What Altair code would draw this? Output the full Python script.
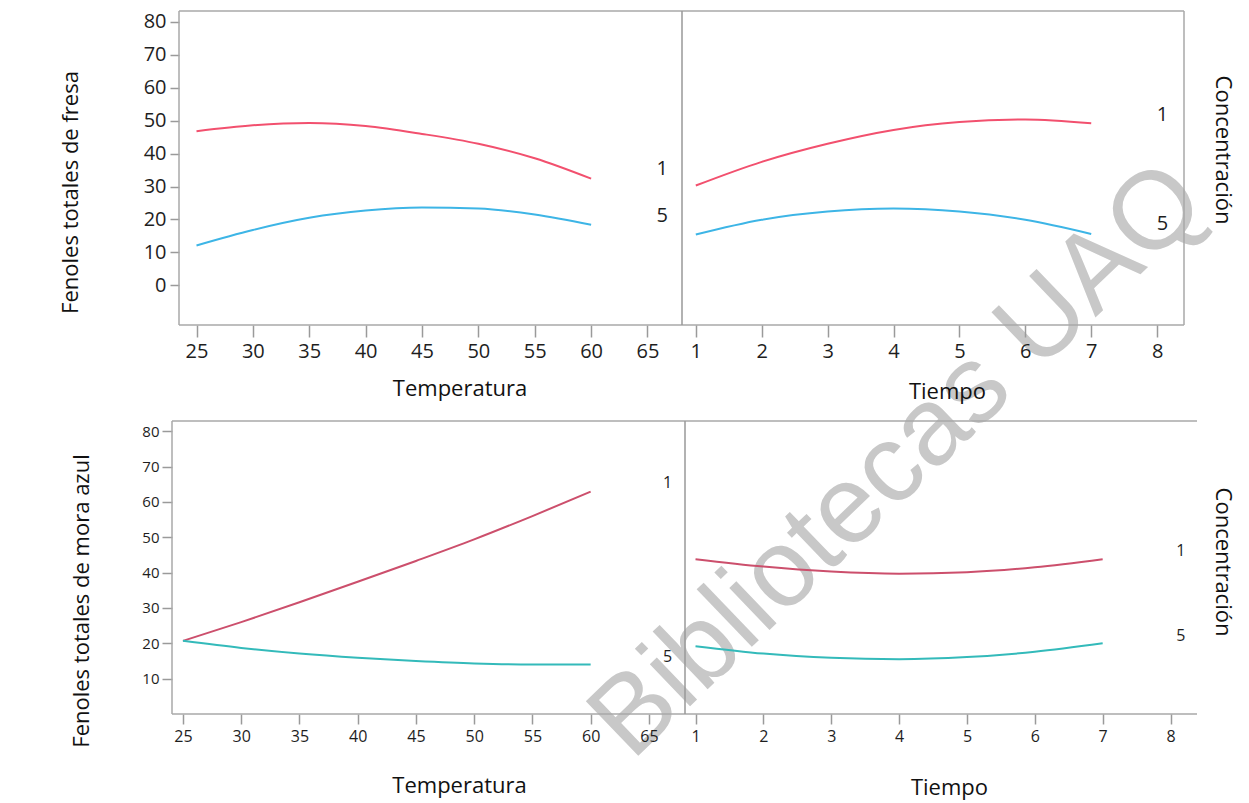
import altair as alt
import pandas as pd

FONT = "Open Sans"

# ---------------- data ----------------
temperatura = [25, 30, 35, 40, 45, 50, 55, 60]
tiempo = [1, 2, 3, 4, 5, 6, 7]
conc_labels = ["1", "5"]

fresa_temp_c1 = [46.8, 48.6, 49.3, 48.4, 46.0, 43.0, 38.6, 32.4]
fresa_temp_c5 = [12.1, 16.8, 20.5, 22.7, 23.6, 23.3, 21.5, 18.4]
fresa_tiempo_c1 = [30.3, 37.5, 43.0, 47.2, 49.6, 50.4, 49.2]
fresa_tiempo_c5 = [15.4, 19.9, 22.4, 23.3, 22.4, 19.9, 15.6]

mora_temp_c1 = [20.7, 26.0, 31.6, 37.4, 43.3, 49.4, 56.0, 62.9]
mora_temp_c5 = [20.7, 18.7, 17.1, 15.9, 15.0, 14.3, 14.0, 14.0]
mora_tiempo_c1 = [43.8, 41.7, 40.3, 39.7, 40.1, 41.5, 43.8]
mora_tiempo_c5 = [19.2, 17.1, 15.9, 15.5, 16.1, 17.6, 20.0]

# level-label anchors (data coordinates): x, y for "1", y for "5"
lab_fresa_temp = [66.3, 35.3, 21.0]
lab_fresa_tiempo = [8.08, 51.7, 18.6]
lab_mora_temp = [66.6, 65.4, 16.1]
lab_mora_tiempo = [8.15, 46.1, 22.0]

temp_ticks = [25, 30, 35, 40, 45, 50, 55, 60, 65]
tiempo_ticks = [1, 2, 3, 4, 5, 6, 7, 8]
y_ticks_top = [0, 10, 20, 30, 40, 50, 60, 70, 80]
y_ticks_bot = [10, 20, 30, 40, 50, 60, 70, 80]

y_title_top = "Fenoles totales de fresa"
y_title_bot = "Fenoles totales de mora azul"
side_title = "Concentración"
watermark = ["Bibliotecas UAQ"]

FRAME = "#a8a8a8"


def axis(values, label_size, tick_size, label_pad, title, tx, ty, offset=0):
    return alt.Axis(
        values=values, domain=False, grid=False, tickSize=tick_size,
        tickColor="#9a9a9a", tickWidth=1.5, labelFont=FONT,
        labelFontSize=label_size, labelColor="#1e1e1e", labelPadding=label_pad,
        labelFlush=False, labelOverlap=False, offset=offset,
        title=title, titleFont=FONT, titleFontSize=22, titleFontWeight="normal",
        titleColor="#111111", titleBaseline="alphabetic", titleX=tx, titleY=ty,
    )


def hline(x0, x1, y, color=FRAME):
    return alt.Chart(pd.DataFrame({"k": [0]})).mark_rule(
        color=color, strokeWidth=1.5).encode(
        x=alt.value(x0), x2=alt.value(x1), y=alt.value(y))


def vline(x, y0, y1, color=FRAME):
    return alt.Chart(pd.DataFrame({"k": [0]})).mark_rule(
        color=color, strokeWidth=1.5).encode(
        x=alt.value(x), y=alt.value(y0), y2=alt.value(y1))


def panel(xs, c1, c5, xdom, ydom, xaxis, yaxis, lab, colors, lab_size, w, h,
          before=None, after=None):
    df = pd.DataFrame({"x": xs, "c1": c1, "c5": c5})
    X = alt.X("x:Q", scale=alt.Scale(domain=xdom, nice=False, zero=False), axis=xaxis)
    sc = alt.Scale(domain=ydom, nice=False, zero=False)
    y1 = alt.Y("c1:Q", scale=sc, axis=yaxis)
    y5 = alt.Y("c5:Q", scale=sc, axis=yaxis)
    base = alt.Chart(df)
    l1 = base.mark_line(color=colors[0], strokeWidth=2, interpolate="monotone").encode(x=X, y=y1)
    l5 = base.mark_line(color=colors[1], strokeWidth=2, interpolate="monotone").encode(x=X, y=y5)
    ldf = pd.DataFrame({"x": [lab[0], lab[0]], "c1": [lab[1], lab[2]], "t": conc_labels})
    labels = alt.Chart(ldf).mark_text(
        font=FONT, fontSize=lab_size, color="#1e1e1e", align="center", baseline="middle"
    ).encode(x=X, y=y1, text="t:N")
    layers = (before or []) + [l1, l5, labels] + (after or [])
    return alt.layer(*layers).properties(width=w, height=h)


def side_text(x, y):
    return alt.Chart(pd.DataFrame({"t": [side_title]})).mark_text(
        font=FONT, fontSize=22, color="#111111", angle=90, align="center",
        baseline="alphabetic"
    ).encode(text="t:N", x=alt.value(x), y=alt.value(y))


wm = alt.Chart(pd.DataFrame({"t": watermark})).mark_text(
    font="Liberation Sans", fontSize=110, color="#c8c8c8", angle=316.2,
    align="center", baseline="middle"
).encode(text="t:N", x=alt.value(726), y=alt.value(450))

TOP_COLORS = ["#f2506e", "#3db5e6"]
BOT_COLORS = ["#cc4f6c", "#33baba"]

# top-row frame (left edge 7px inside the column, right edge at 1012)
top_frame = [hline(7, 1012, 0), hline(7, 1012, 314), vline(7, 0, 314),
             vline(510, 0, 314, "#999999"), vline(1012, 0, 314)]
# bottom-row frame (no right edge)
bot_frame = [hline(0, 1025, 0), hline(0, 1025, 293), vline(0, 0, 293),
             vline(513, 0, 293, "#999999")]

tl = panel(
    temperatura, fresa_temp_c1, fresa_temp_c5, [22.827, 68.326], [-12.07, 83.34],
    axis(temp_ticks, 20, 12, 4, "Temperatura", 287.5, 70),
    axis(y_ticks_top, 20, 9, 4, y_title_top, -102, 181, offset=-7),
    lab_fresa_temp, TOP_COLORS, 20, 513, 314, before=[wm] + top_frame,
)
tr = panel(
    tiempo, fresa_tiempo_c1, fresa_tiempo_c5, [0.836, 8.605], [-12.07, 83.34],
    axis(tiempo_ticks, 20, 12, 4, "Tiempo", 262, 73), None,
    lab_fresa_tiempo, TOP_COLORS, 20, 512, 314, after=[side_text(531, 139)],
)
bl = panel(
    temperatura, mora_temp_c1, mora_temp_c5, [24.06, 68.1], [0.0, 82.9],
    axis(temp_ticks, 16, 10, 4, "Temperatura", 287, 78),
    axis(y_ticks_bot, 15, 10, 3, y_title_bot, -84, 179.5),
    lab_mora_temp, BOT_COLORS, 16, 513, 293, before=bot_frame,
)
br = panel(
    tiempo, mora_tiempo_c1, mora_tiempo_c5, [0.845, 8.39], [0.0, 82.9],
    axis(tiempo_ticks, 16, 10, 4, "Tiempo", 264, 80), None,
    lab_mora_tiempo, BOT_COLORS, 16, 512, 293,
    after=[side_text(531, 141)],
)

chart = alt.concat(
    tl, tr, bl, br,
    columns=2, spacing={"row": 96, "column": 0}, bounds="flush",
).properties(
    padding={"left": 51, "top": 2, "right": 6, "bottom": 4},
    background="white",
).configure_view(stroke="transparent", strokeWidth=0)

chart.save("out.html", embed_options={"renderer": "svg", "actions": False})
